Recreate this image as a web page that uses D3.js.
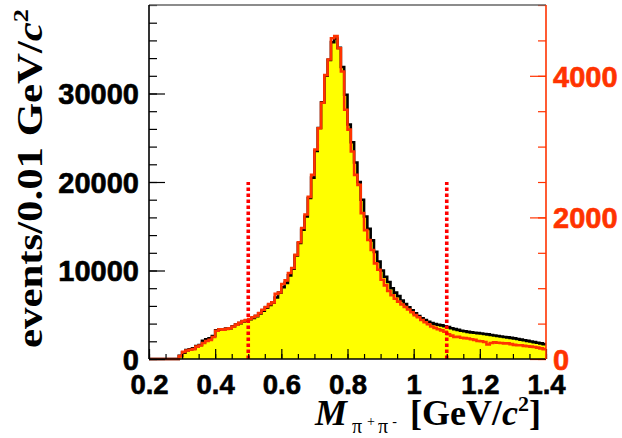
<!DOCTYPE html>
<html>
<head>
<meta charset="utf-8">
<script src="https://cdn.jsdelivr.net/npm/d3@7/dist/d3.min.js"></script>
<style>
  html, body { margin: 0; padding: 0; background: #fff; }
  svg { display: block; }
</style>
</head>
<body>
<svg id="chart" width="622" height="438"></svg>
<script>
// ---- data (events per 0.01 GeV/c^2 bin, bins start at 0.20 ... 1.39) ----
const binStart = 0.2;
const binWidth = 0.01;

// black histogram (left axis)
const dataBlack = [
  0,0,0,0,0,0,0,0,0,350,
  720,1000,1090,1200,1450,1580,2050,2220,2330,2600,
  3250,3350,3300,3450,3480,3700,3900,4050,4250,4350,
  4500,4650,4850,5150,5450,5800,6100,6400,6950,7500,
  8100,8600,9450,10200,11700,13100,14600,16100,18200,20500,
  23500,26100,29000,32000,33800,35800,36200,35150,33000,29860,
  26500,24500,22200,20000,18000,16100,14700,13400,12100,11000,
  10000,9300,8700,8000,7500,7100,6600,6200,5850,5500,
  5150,4850,4600,4400,4200,4050,3950,3870,3800,3700,
  3600,3480,3380,3290,3200,3130,3070,3010,2960,2920,
  2880,2830,2780,2720,2660,2600,2540,2490,2440,2390,
  2330,2260,2190,2120,2050,1980,1910,1840,1760,1680
];

// red histogram (right axis)
const dataRed = [
  0,0,0,0,0,0,0,0,0,40,
  100,120,130,140,175,190,225,255,270,310,
  400,420,415,425,435,460,485,510,535,550,
  565,590,610,650,695,735,775,800,920,940,
  1060,1110,1215,1285,1470,1650,1850,2040,2290,2600,
  2960,3260,3620,4010,4230,4530,4560,4390,4060,3520,
  3240,2930,2600,2460,2060,1820,1680,1540,1350,1260,
  1120,1040,960,900,850,810,770,735,700,660,
  620,590,550,520,490,460,440,420,405,385,
  350,330,310,315,300,295,290,280,270,255,
  250,240,205,225,235,230,225,220,220,210,
  200,195,195,185,180,175,170,160,150,140
];

const xDomain = [0.2, 1.4];
const yLeftDomain = [0, 40000];
const yRightDomain = [0, 5000];
const xMajorTicks = [0.2, 0.4, 0.6, 0.8, 1.0, 1.2, 1.4];
const yLeftMajorTicks = [0, 10000, 20000, 30000];
const yRightMajorTicks = [0, 2000, 4000];
const cutLines = [0.5, 1.1];
const cutHeight = 20000;

// ---- layout ----
const L = 149, R = 546, T = 5, B = 359;
const svg = d3.select("#chart");

const x = d3.scaleLinear().domain(xDomain).range([L, R]);
const yL = d3.scaleLinear().domain(yLeftDomain).range([B, T]);
const yR = d3.scaleLinear().domain(yRightDomain).range([B, T]);

function toPts(arr) {
  const pts = arr.map((v, i) => ({ e: binStart + i * binWidth, v }));
  pts.push({ e: binStart + arr.length * binWidth, v: arr[arr.length - 1] });
  return pts;
}
const ptsBlack = toPts(dataBlack);
const ptsRed = toPts(dataRed);

const RED = "#ff3300";

// filled black histogram
svg.append("path")
  .datum(ptsBlack)
  .attr("fill", "#ffff00")
  .attr("d", d3.area().curve(d3.curveStepAfter)
    .x(d => x(d.e)).y0(yL(0)).y1(d => yL(d.v)));

svg.append("path")
  .datum(ptsBlack)
  .attr("fill", "none")
  .attr("stroke", "#000")
  .attr("stroke-width", 2.6)
  .attr("d", d3.line().curve(d3.curveStepAfter)
    .x(d => x(d.e)).y(d => yL(d.v)));

// red histogram on right scale
svg.append("path")
  .datum(ptsRed)
  .attr("fill", "none")
  .attr("stroke", RED)
  .attr("stroke-width", 2.6)
  .attr("d", d3.line().curve(d3.curveStepAfter)
    .x(d => x(d.e)).y(d => yR(d.v)));

// dashed cut lines
svg.selectAll(".cut").data(cutLines).enter().append("line")
  .attr("x1", d => x(d)).attr("x2", d => x(d))
  .attr("y1", yL(0)).attr("y2", yL(cutHeight))
  .attr("stroke", "#ff0000").attr("stroke-width", 3.6)
  .attr("stroke-dasharray", "3.4,2.6");

// ---- axes ----
const labelFont = "'Liberation Sans', Arial, Helvetica, sans-serif";

function styleAxis(g, color, fontSize) {
  g.select(".domain").remove();
  g.selectAll(".tick line").attr("stroke", color).attr("stroke-width", 1.2);
  g.selectAll(".tick text")
    .attr("fill", color)
    .attr("stroke", color)
    .attr("stroke-width", 0.6)
    .attr("font-family", labelFont)
    .attr("font-weight", "bold")
    .attr("font-size", fontSize);
}

// bottom axis
const gxMinor = svg.append("g").attr("transform", `translate(0,${B})`)
  .call(d3.axisBottom(x).tickValues(d3.range(0.2, 1.4001, 0.05)).tickSize(-5).tickFormat(""));
styleAxis(gxMinor, "#000", 27.5);
const gx = svg.append("g").attr("transform", `translate(0,${B})`)
  .call(d3.axisBottom(x).tickValues(xMajorTicks).tickSize(-10).tickPadding(15)
    .tickFormat(d => String(+d.toFixed(1))));
styleAxis(gx, "#000", 27.5);

// left axis
const gyMinor = svg.append("g").attr("transform", `translate(${L},0)`)
  .call(d3.axisLeft(yL).tickValues(d3.range(0, 40001, 2000)).tickSize(-8).tickFormat(""));
styleAxis(gyMinor, "#000", 29);
const gy = svg.append("g").attr("transform", `translate(${L},0)`)
  .call(d3.axisLeft(yL).tickValues(yLeftMajorTicks).tickSize(-16).tickPadding(10)
    .tickFormat(d3.format("d")));
styleAxis(gy, "#000", 29);
gy.selectAll(".tick text").attr("dy", "0.36em");

// right axis
const grMinor = svg.append("g").attr("transform", `translate(${R},0)`)
  .call(d3.axisRight(yR).tickValues(d3.range(0, 5001, 500)).tickSize(-8).tickFormat(""));
styleAxis(grMinor, RED, 29);
const gr = svg.append("g").attr("transform", `translate(${R},0)`)
  .call(d3.axisRight(yR).tickValues(yRightMajorTicks).tickSize(-16).tickPadding(7)
    .tickFormat(d3.format("d")));
styleAxis(gr, RED, 29);
gr.selectAll(".tick text").attr("dy", "0.36em");

// frame
svg.append("line").attr("x1", L).attr("x2", R).attr("y1", T).attr("y2", T)
  .attr("stroke", "#666").attr("stroke-width", 1.3);
svg.append("line").attr("x1", L).attr("x2", L).attr("y1", T).attr("y2", B)
  .attr("stroke", "#000").attr("stroke-width", 1.6);
svg.append("line").attr("x1", L).attr("x2", R).attr("y1", B).attr("y2", B)
  .attr("stroke", "#000").attr("stroke-width", 1.6);
svg.append("line").attr("x1", R).attr("x2", R).attr("y1", T).attr("y2", B)
  .attr("stroke", RED).attr("stroke-width", 1.6);

// ---- titles ----
const serif = "'Liberation Serif', 'Times New Roman', Times, serif";

// y title
const yt = svg.append("g").attr("transform", "translate(42,348) rotate(-90) scale(1.19,1)")
  .append("text")
  .attr("font-family", serif).attr("font-weight", "bold").attr("font-size", 36)
  .attr("fill", "#000");
yt.append("tspan").text("events/0.01 GeV/");
yt.append("tspan").attr("font-style", "italic").text("c");
yt.append("tspan").attr("font-size", 22).attr("dy", -14).text("2");

// x title
svg.append("text").attr("x", 315).attr("y", 425)
  .attr("font-family", serif).attr("font-weight", "bold").attr("font-style", "italic")
  .attr("font-size", 36).attr("fill", "#000").text("M");
const sub = svg.append("text").attr("x", 352).attr("y", 433)
  .attr("font-family", serif).attr("font-size", 20).attr("fill", "#000");
sub.append("tspan").text("π");
sub.append("tspan").attr("font-size", 14).attr("dx", 5).attr("dy", -7).text("+");
sub.append("tspan").attr("dx", 3).attr("dy", 7).text("π");
sub.append("tspan").attr("font-size", 14).attr("dx", 4).attr("dy", -7).text("-");

const xt = svg.append("text").attr("x", 410).attr("y", 425)
  .attr("font-family", serif).attr("font-weight", "bold")
  .attr("font-size", 36).attr("fill", "#000");
xt.append("tspan").text("[GeV/");
xt.append("tspan").attr("font-style", "italic").text("c");
xt.append("tspan").attr("font-size", 22).attr("dy", -14).text("2");
xt.append("tspan").attr("font-size", 36).attr("dy", 14).text("]");
</script>
</body>
</html>
